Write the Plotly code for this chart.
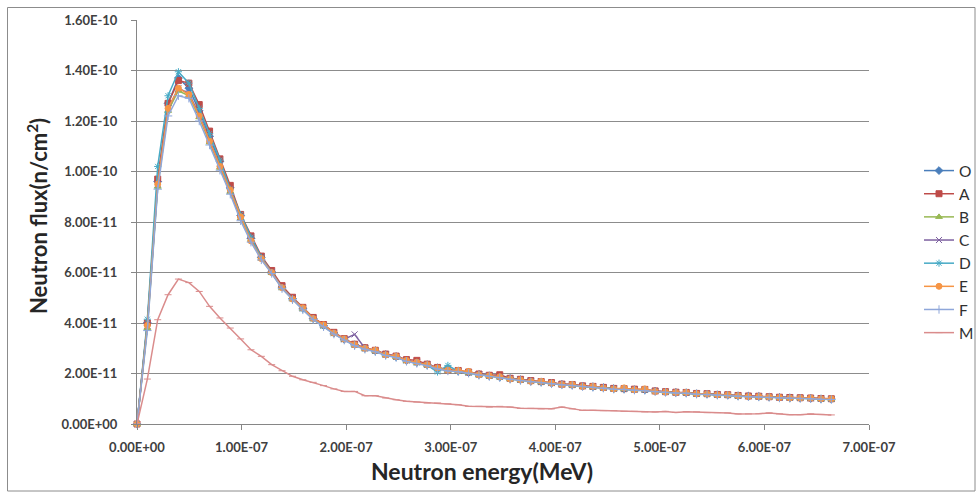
import plotly.graph_objects as go

# Neutron energy (units of 1e-8 MeV)
energy_e8 = [0, 0.99, 1.98, 2.97, 3.96, 4.96, 5.95, 6.94, 7.93, 8.92, 9.91,
             10.90, 11.89, 12.88, 13.87, 14.87, 15.86, 16.85, 17.84, 18.83, 19.82,
             20.81, 21.80, 22.79, 23.78, 24.78, 25.77, 26.76, 27.75, 28.74, 29.73,
             30.72, 31.71, 32.70, 33.69, 34.69, 35.68, 36.67, 37.66, 38.65, 39.64,
             40.63, 41.62, 42.61, 43.60, 44.60, 45.59, 46.58, 47.57, 48.56, 49.55,
             50.54, 51.53, 52.52, 53.51, 54.51, 55.50, 56.49, 57.48, 58.47, 59.46,
             60.45, 61.44, 62.43, 63.42, 64.42, 65.41, 66.40]

# Neutron flux (units of 1e-11 n/cm^2)
O = [0, 4.0, 9.6, 12.7, 13.7, 13.3, 12.4, 11.4, 10.4, 9.35, 8.25, 7.35, 6.6,
     6.02, 5.42, 4.97, 4.58, 4.18, 3.9, 3.6, 3.36, 3.14, 3.0, 2.9, 2.75, 2.67, 2.52, 2.44,
     2.35, 2.22, 2.13, 2.1, 2.04, 1.96, 1.91, 1.86, 1.8, 1.75, 1.7, 1.67, 1.62, 1.57, 1.55,
     1.5, 1.48, 1.44, 1.4, 1.39, 1.36, 1.35, 1.3, 1.27, 1.25, 1.24, 1.2, 1.19, 1.16, 1.15,
     1.12, 1.1, 1.09, 1.07, 1.05, 1.04, 1.03, 1.02, 1.0, 0.99]
A = [0, 4.0, 9.7, 12.7, 13.6, 13.5, 12.65, 11.6, 10.5, 9.45, 8.3, 7.45, 6.65,
     6.08, 5.48, 5.02, 4.62, 4.22, 3.94, 3.63, 3.38, 3.16, 3.02, 2.92, 2.77, 2.69, 2.55, 2.52,
     2.37, 2.24, 2.15, 2.12, 2.06, 1.98, 1.93, 1.95, 1.81, 1.77, 1.72, 1.68, 1.64, 1.58, 1.56,
     1.51, 1.49, 1.45, 1.41, 1.4, 1.38, 1.37, 1.31, 1.28, 1.26, 1.25, 1.21, 1.2, 1.17, 1.16,
     1.13, 1.11, 1.1, 1.08, 1.06, 1.05, 1.04, 1.03, 1.01, 1.0]
B = [0, 3.8, 9.4, 12.4, 13.2, 13.0, 12.15, 11.15, 10.15, 9.2, 8.15, 7.3, 6.55,
     5.98, 5.38, 4.94, 4.55, 4.15, 3.87, 3.58, 3.34, 3.12, 2.98, 2.88, 2.73, 2.65, 2.5, 2.42,
     2.33, 2.2, 2.11, 2.08, 2.02, 1.94, 1.89, 1.84, 1.78, 1.73, 1.69, 1.65, 1.61, 1.56, 1.53,
     1.49, 1.46, 1.43, 1.39, 1.38, 1.35, 1.34, 1.29, 1.26, 1.24, 1.23, 1.19, 1.18, 1.15, 1.14,
     1.11, 1.09, 1.08, 1.06, 1.04, 1.03, 1.02, 1.01, 0.99, 0.98]
C = [0, 3.9, 9.5, 12.5, 13.3, 13.1, 12.25, 11.25, 10.25, 9.25, 8.2, 7.35, 6.6,
     6.02, 5.42, 4.98, 4.58, 4.19, 3.9, 3.6, 3.36, 3.55, 3.0, 2.89, 2.75, 2.66, 2.52, 2.44,
     2.35, 2.22, 2.13, 2.1, 2.04, 1.96, 1.91, 1.86, 1.8, 1.75, 1.7, 1.67, 1.62, 1.57, 1.55,
     1.5, 1.48, 1.44, 1.4, 1.39, 1.36, 1.35, 1.3, 1.27, 1.25, 1.24, 1.2, 1.19, 1.16, 1.15,
     1.12, 1.1, 1.09, 1.07, 1.05, 1.04, 1.03, 1.02, 1.0, 0.99]
D = [0, 4.15, 10.2, 13.0, 13.95, 13.5, 12.5, 11.5, 10.45, 9.3, 8.3, 7.4, 6.6,
     6.0, 5.4, 4.96, 4.56, 4.16, 3.88, 3.58, 3.34, 3.13, 2.98, 2.88, 2.74, 2.65, 2.5, 2.42,
     2.33, 2.06, 2.32, 2.08, 2.02, 1.95, 1.9, 1.85, 1.79, 1.74, 1.69, 1.66, 1.61, 1.56, 1.54,
     1.49, 1.47, 1.43, 1.39, 1.38, 1.35, 1.34, 1.29, 1.26, 1.24, 1.23, 1.19, 1.18, 1.15, 1.14,
     1.11, 1.09, 1.08, 1.06, 1.04, 1.03, 1.02, 1.01, 0.99, 0.98]
E = [0, 3.9, 9.5, 12.5, 13.3, 13.05, 12.2, 11.2, 10.2, 9.27, 8.2, 7.25, 6.55,
     6.0, 5.4, 4.95, 4.6, 4.18, 3.93, 3.6, 3.37, 3.14, 3.0, 2.92, 2.74, 2.68, 2.52, 2.45,
     2.35, 2.22, 2.13, 2.12, 2.08, 1.95, 1.91, 1.87, 1.78, 1.75, 1.69, 1.69, 1.62, 1.56, 1.56,
     1.49, 1.49, 1.43, 1.39, 1.43, 1.36, 1.39, 1.29, 1.27, 1.25, 1.25, 1.2, 1.19, 1.16, 1.16,
     1.12, 1.09, 1.09, 1.07, 1.05, 1.03, 1.03, 1.03, 1.0, 1.0]
F = [0, 3.7, 9.3, 12.2, 13.0, 12.9, 12.0, 11.05, 10.05, 9.1, 8.05, 7.2, 6.5,
     5.96, 5.36, 4.92, 4.52, 4.13, 3.85, 3.56, 3.32, 3.1, 2.96, 2.86, 2.71, 2.63, 2.48, 2.4,
     2.31, 2.18, 2.1, 2.07, 2.01, 1.93, 1.88, 1.83, 1.77, 1.72, 1.67, 1.64, 1.59, 1.55, 1.52,
     1.48, 1.45, 1.42, 1.38, 1.37, 1.34, 1.33, 1.28, 1.25, 1.23, 1.22, 1.18, 1.17, 1.14, 1.13,
     1.1, 1.08, 1.07, 1.05, 1.03, 1.02, 1.01, 1.0, 0.98, 0.97]
M = [0, 1.78, 4.13, 5.12, 5.74, 5.6, 5.25, 4.66, 4.2, 3.8, 3.37, 2.94, 2.68,
     2.35, 2.11, 1.89, 1.75, 1.65, 1.52, 1.39, 1.29, 1.29, 1.12, 1.12, 1.03, 0.96, 0.9, 0.87,
     0.83, 0.83, 0.8, 0.76, 0.7, 0.7, 0.67, 0.7, 0.67, 0.62, 0.62, 0.6, 0.6, 0.67, 0.6,
     0.54, 0.54, 0.53, 0.53, 0.5, 0.5, 0.48, 0.48, 0.5, 0.46, 0.49, 0.48, 0.45, 0.45, 0.44,
     0.4, 0.4, 0.41, 0.44, 0.4, 0.37, 0.37, 0.4, 0.38, 0.36]

series_names = ["O", "A", "B", "C", "D", "E", "F", "M"]
series_data = [O, A, B, C, D, E, F, M]

x_tick_vals = [0, 1e-7, 2e-7, 3e-7, 4e-7, 5e-7, 6e-7, 7e-7]
x_tick_text = ["0.00E+00", "1.00E-07", "2.00E-07", "3.00E-07", "4.00E-07",
               "5.00E-07", "6.00E-07", "7.00E-07"]
y_tick_vals = [0, 2e-11, 4e-11, 6e-11, 8e-11, 1e-10, 1.2e-10, 1.4e-10, 1.6e-10]
y_tick_text = ["0.00E+00", "2.00E-11", "4.00E-11", "6.00E-11", "8.00E-11",
               "1.00E-10", "1.20E-10", "1.40E-10", "1.60E-10"]

colors = ["#4A7EBB", "#BE4B48", "#98B954", "#7D60A0", "#46AAC5", "#F69545", "#8FA7DA", "#DA8C8C"]
symbols = ["diamond", "square", "triangle-up", "x-thin-open", "asterisk-open",
           "circle", "cross-thin-open", "line-ew-open"]
sizes = [6, 6, 6, 6, 6, 6, 6, 5]

x_vals = [e * 1e-8 for e in energy_e8]

fig = go.Figure()
for name, data, c, s, sz in zip(series_names, series_data, colors, symbols, sizes):
    fig.add_trace(go.Scatter(
        x=x_vals, y=[v * 1e-11 for v in data], name=name, mode="lines+markers",
        line=dict(color=c, width=1.5),
        marker=dict(symbol=s, size=sz, color=c, line=dict(color=c, width=1)),
        cliponaxis=False,
    ))

W, H = 977, 494
L, R, T, Bm = 137, 108, 20, 70
pw, ph = W - L - R, H - T - Bm

def px_x(p):
    return (p - L) / pw

def px_y(p):
    return (H - Bm - p) / ph

fig.update_layout(
    width=W, height=H,
    margin=dict(l=L, r=R, t=T, b=Bm, autoexpand=False),
    paper_bgcolor="white", plot_bgcolor="white",
    font=dict(family="Lato", color="#404040"),
    xaxis=dict(range=[0, 7e-7], tickvals=x_tick_vals, ticktext=x_tick_text,
               showgrid=False, zeroline=False, showline=True, linecolor="#868686",
               linewidth=1, ticks="outside", ticklen=5, tickcolor="#868686",
               tickfont=dict(family="Lato", size=13, color="#404040", weight="bold"),
               ticklabelstandoff=6),
    yaxis=dict(range=[0, 1.6e-10], tickvals=y_tick_vals, ticktext=y_tick_text,
               showgrid=True, gridcolor="#8C8C8C", gridwidth=1, zeroline=False,
               showline=True, linecolor="#868686", linewidth=1, ticks="outside",
               ticklen=5, tickcolor="#868686",
               tickfont=dict(family="Lato", size=13, color="#404040", weight="bold"),
               ticklabelstandoff=11),
    legend=dict(x=px_x(919), y=px_y(154), xanchor="left", yanchor="top",
                font=dict(family="Lato", size=15.5, color="#303030"),
                bgcolor="rgba(0,0,0,0)", itemwidth=30),
    showlegend=True,
)

fig.add_annotation(text="Neutron energy(MeV)", xref="paper", yref="paper",
                   x=px_x(482), y=px_y(471), xanchor="center", yanchor="middle",
                   showarrow=False,
                   font=dict(family="Lato", size=23, color="#262626", weight="bold"))
fig.add_annotation(text="Neutron flux(n/cm<sup>2</sup>)", xref="paper", yref="paper",
                   x=px_x(37), y=px_y(216), xanchor="center", yanchor="middle",
                   showarrow=False, textangle=-90,
                   font=dict(family="Lato", size=22, color="#262626", weight="bold"))

fig.add_shape(type="rect", xref="paper", yref="paper",
              x0=px_x(7.5), x1=px_x(975), y0=px_y(491), y1=px_y(7.5),
              line=dict(color="#8C8C8C", width=1), layer="below")

fig.write_html("out.html")
